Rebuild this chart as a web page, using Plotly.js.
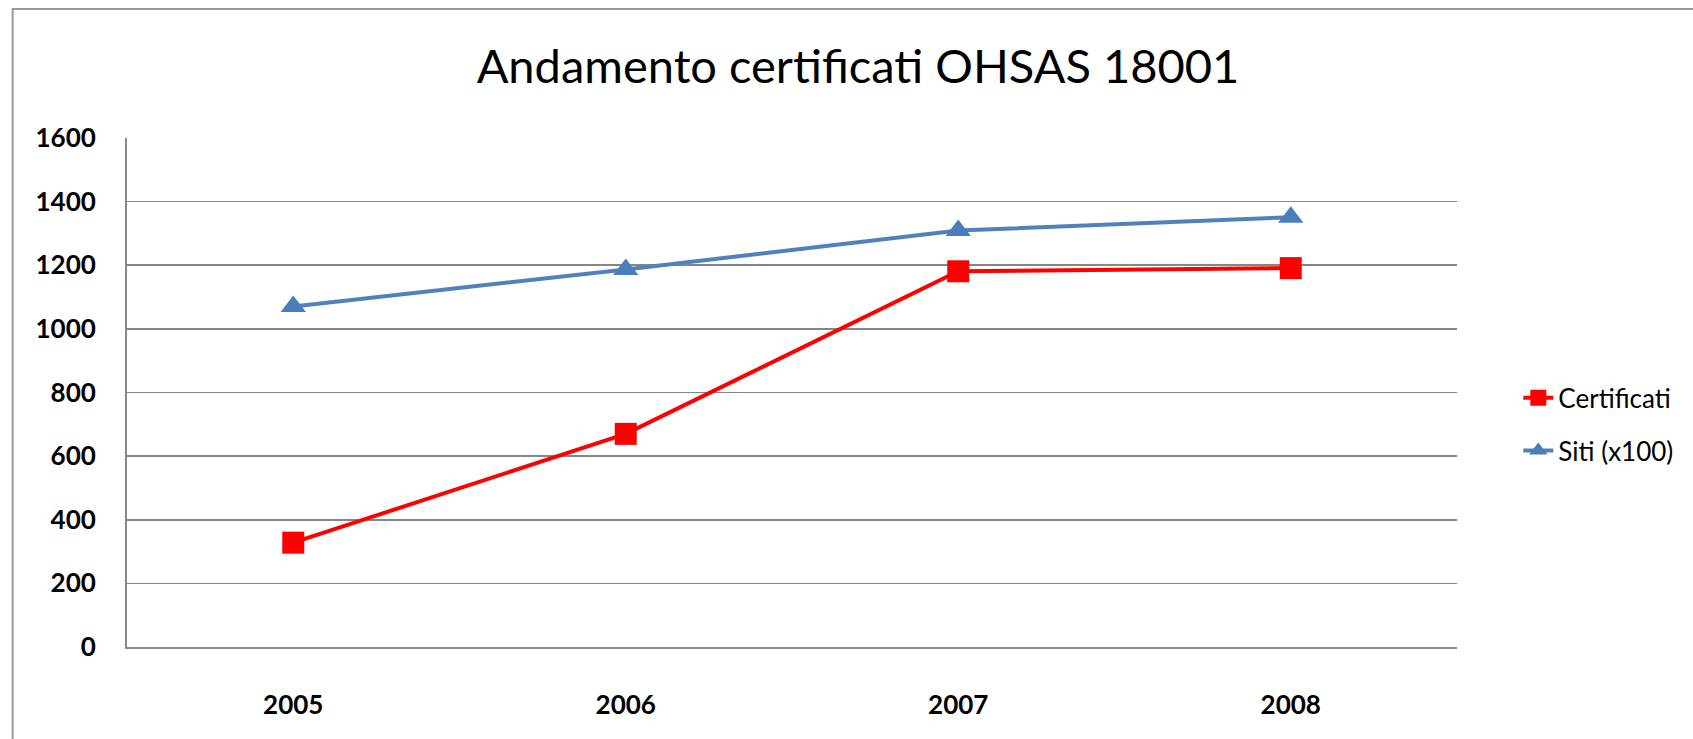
<!DOCTYPE html>
<html>
<head>
<meta charset="utf-8">
<script src="https://cdn.plot.ly/plotly-3.0.1.min.js"></script>
<style>
  html, body { margin: 0; padding: 0; background: #ffffff; }
  #chart { width: 1693px; height: 739px; }
</style>
</head>
<body>
<div id="chart"></div>
<script>
const years = ['2005', '2006', '2007', '2008'];
const certificati = [328, 670, 1181, 1191];
const siti = [1070, 1187, 1309, 1351];
const yTicks = [0, 200, 400, 600, 800, 1000, 1200, 1400, 1600];

const W = 1693, H = 739;
const L = 127.3, R = 1456.7, T = 138.3, B = 646.7;
const pw = R - L, ph = B - T;
const px2x = p => (p - L) / pw;
const px2y = p => (B - p) / ph;

const traces = [
  {
    x: years, y: certificati, name: 'Certificati', type: 'scatter', mode: 'lines+markers',
    legendgroup: 'a',
    line: { color: '#ff0000', width: 4 },
    marker: { symbol: 'square', size: 22, color: '#ff0000' }
  },
  {
    x: years, y: siti, name: 'Siti (x100)', type: 'scatter', mode: 'lines+markers',
    legendgroup: 'b',
    line: { color: '#4f81bd', width: 4 },
    marker: { symbol: 'triangle-up', size: 22, color: '#4a7ebb' }
  }
];

const tickFont = { family: 'Lato, "Open Sans", sans-serif', size: 26, color: '#000000', weight: 700 };

const fx0 = px2x(13), fy0 = px2y(760), fy1 = px2y(9.5), fx1 = px2x(1720);

const layout = {
  width: W, height: H,
  margin: { l: L, r: W - R, t: T, b: H - B, pad: 0 },
  paper_bgcolor: '#ffffff',
  plot_bgcolor: '#ffffff',
  showlegend: true,
  title: {
    text: 'Andamento certificati OHSAS 18001',
    font: { family: 'Lato, "Open Sans", sans-serif', size: 47, color: '#000000' },
    xref: 'container', x: 858 / W, xanchor: 'center',
    yref: 'container', y: 1 - 66.7 / H, yanchor: 'middle'
  },
  xaxis: {
    type: 'category',
    categoryarray: years,
    range: [-0.5, 3.5],
    showgrid: false,
    showline: true, linecolor: '#8a8a8a', linewidth: 2,
    ticks: '',
    ticklabelstandoff: 34,
    tickfont: tickFont,
    fixedrange: true
  },
  yaxis: {
    range: [0, 1600],
    tickmode: 'array', tickvals: yTicks, ticktext: yTicks.map(String),
    showgrid: true, gridcolor: '#868686', gridwidth: 1.6,
    zeroline: false,
    showline: true, linecolor: '#8a8a8a', linewidth: 2,
    ticks: '',
    ticklabelstandoff: 24,
    tickfont: tickFont,
    fixedrange: true
  },
  legend: {
    x: px2x(1518), xanchor: 'left',
    y: px2y(424.2), yanchor: 'middle',
    font: { family: 'Lato, "Open Sans", sans-serif', size: 26, color: '#000000' },
    bgcolor: 'rgba(0,0,0,0)',
    tracegroupgap: 16,
    itemclick: false, itemdoubleclick: false
  },
  shapes: [
    {
      type: 'path', xref: 'paper', yref: 'paper',
      path: 'M ' + fx0 + ' ' + fy0 + ' L ' + fx0 + ' ' + fy1 + ' L ' + fx1 + ' ' + fy1,
      line: { color: '#9a9a9a', width: 2 },
      layer: 'below'
    }
  ],
  hovermode: false
};

Plotly.newPlot('chart', traces, layout, { displayModeBar: false, staticPlot: true });
</script>
</body>
</html>
